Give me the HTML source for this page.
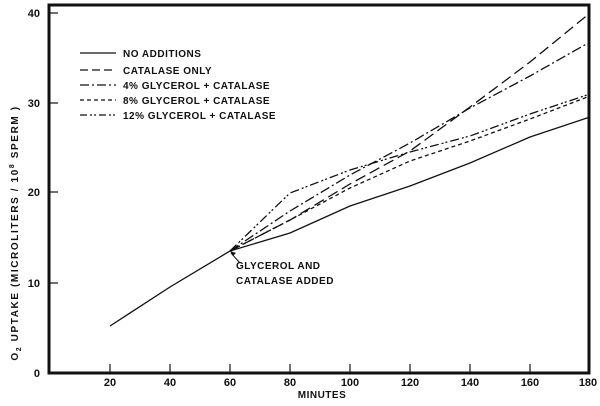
<!DOCTYPE html>
<html><head><style>
body{margin:0;background:#fff}
svg text{font-family:"Liberation Sans",sans-serif;fill:#111}
</style></head><body>
<svg width="600" height="401" viewBox="0 0 600 401" xmlns="http://www.w3.org/2000/svg">
<rect x="49" y="5" width="540" height="368" fill="none" stroke="#111" stroke-width="3"/>
<g stroke="#111" stroke-width="1.2">
<line x1="49" y1="13" x2="58" y2="13"/><line x1="49" y1="103" x2="58" y2="103"/>
<line x1="49" y1="192" x2="58" y2="192"/><line x1="49" y1="283" x2="58" y2="283"/>
<line x1="110" y1="373" x2="110" y2="364"/><line x1="170" y1="373" x2="170" y2="364"/>
<line x1="230" y1="373" x2="230" y2="364"/><line x1="290" y1="373" x2="290" y2="364"/>
<line x1="350" y1="373" x2="350" y2="364"/><line x1="410" y1="373" x2="410" y2="364"/>
<line x1="470" y1="373" x2="470" y2="364"/><line x1="530" y1="373" x2="530" y2="364"/>
</g>
<g font-size="11" font-weight="bold" text-anchor="end">
<text x="40" y="17">40</text><text x="40" y="107">30</text><text x="40" y="196">20</text><text x="40" y="287">10</text><text x="40" y="377">0</text>
</g>
<g font-size="11" font-weight="bold" text-anchor="middle">
<text x="110" y="386">20</text><text x="170" y="386">40</text><text x="230" y="386">60</text><text x="290" y="386">80</text><text x="350" y="386">100</text><text x="410" y="386">120</text><text x="470" y="386">140</text><text x="530" y="386">160</text><text x="588" y="386">180</text>
<text x="322" y="398" font-size="10" letter-spacing="0.5">MINUTES</text>
</g>
<text transform="translate(18,233) rotate(-90)" font-size="10" font-weight="bold" text-anchor="middle" letter-spacing="1.6">O<tspan font-size="7" dy="3">2</tspan><tspan dy="-3"> UPTAKE (MICROLITERS / 10</tspan><tspan font-size="7" dy="-4">8</tspan><tspan dy="4"> SPERM )</tspan></text>
<g fill="none" stroke="#111" stroke-width="1.3">
<polyline points="110,326 170,287 230,251 290,233 350,206 410,186 470,163 530,137 590,117"/>
<polyline stroke-dasharray="11,5" points="230,251 290,220 350,184 410,151 470,107 530,62 590,13"/>
<polyline stroke-dasharray="10,3,2,3" points="230,251 290,211 350,175 410,143 470,108 530,76 590,42"/>
<polyline stroke-dasharray="4,3" points="230,251 290,220 350,188 410,161 470,141 530,119 590,96"/>
<polyline stroke-dasharray="9,3,2,2,2,3" points="230,251 290,193 350,170 410,152 470,136 530,114 590,94"/>
<line x1="80" y1="53" x2="116" y2="53"/>
<line x1="80" y1="70" x2="116" y2="70" stroke-dasharray="8,4"/>
<line x1="80" y1="85" x2="116" y2="85" stroke-dasharray="9,3,2,3"/>
<line x1="80" y1="100" x2="116" y2="100" stroke-dasharray="4,3"/>
<line x1="80" y1="115" x2="116" y2="115" stroke-dasharray="7,3,2,2,2,3"/>
<line x1="231" y1="253" x2="240" y2="263" stroke-width="1"/>
</g>
<polygon points="230,251 236,253 233,256" fill="#111"/>
<g font-size="10" font-weight="bold" letter-spacing="0.5">
<text x="123" y="57">NO ADDITIONS</text>
<text x="123" y="74">CATALASE ONLY</text>
<text x="123" y="89">4% GLYCEROL + CATALASE</text>
<text x="123" y="104">8% GLYCEROL + CATALASE</text>
<text x="123" y="119">12% GLYCEROL + CATALASE</text>
<text x="236" y="269">GLYCEROL AND</text>
<text x="236" y="284">CATALASE ADDED</text>
</g>
</svg>
</body></html>
